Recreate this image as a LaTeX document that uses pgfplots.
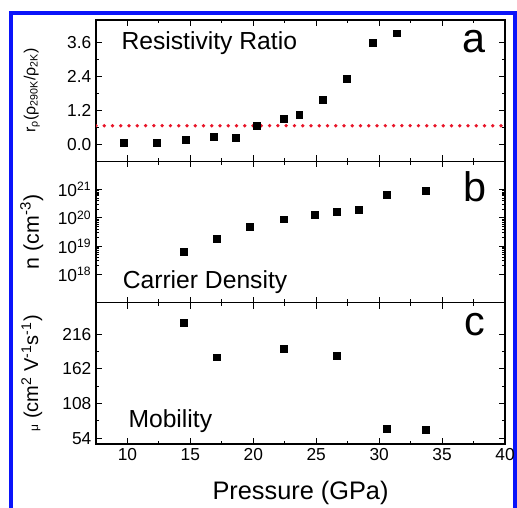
\documentclass[border=0pt]{standalone}
\usepackage{fontspec}
\setmainfont{Liberation Sans}
\usepackage{pgfplots}
\pgfplotsset{compat=1.18}
\definecolor{dotred}{RGB}{232,20,40}
\definecolor{frameblue}{RGB}{10,20,250}

\pgfplotsset{
  panel/.style={
    scale only axis,
    width=306.75pt, height=106pt,
    xmin=7.5, xmax=40,
    xtick={10,15,...,40}, minor x tick num=1,
    axis line style={line width=1pt},
    every tick/.style={black, line width=0.8pt},
    major tick length=4.5pt, minor tick length=2.5pt,
    tick label style={font=\fontsize{13}{13}\selectfont},
    /pgf/number format/assume math mode=true,
    every axis y label/.style={at={(axis description cs:-0.157,0.5)}, rotate=90, anchor=center},
    anchor=south west,
  },
  sq/.style={only marks, mark=square*, mark size=2.6pt, black},
}

\begin{document}
\begin{tikzpicture}
\useasboundingbox (-72pt,-47.25pt) rectangle (315.75pt,333pt);
\draw[frameblue, line width=3pt] (-63.75pt,-60pt) -- (-63.75pt,323.25pt) -- (313.9pt,323.25pt) -- (313.9pt,-60pt);

% a: resistivity ratio
\begin{axis}[panel, at={(0,212pt)},
  ymin=-0.6, ymax=4.4,
  ytick={0,1.2,2.4,3.6}, yticklabels={0.0,1.2,2.4,3.6}, minor y tick num=1,
  xticklabels={},
  ylabel={\fontsize{12}{12}\selectfont r\textsubscript{ρ}(ρ\textsubscript{290K}/ρ\textsubscript{2K})},
]
\addplot[dotred, line width=2.8pt, line cap=round, dash pattern=on 0pt off 6.2pt] coordinates {(7.5,0.66) (40,0.66)};
\addplot[sq] coordinates {
(9.7,0.06) (12.3,0.06) (14.6,0.15) (16.85,0.27) (18.6,0.23) (20.25,0.66)
(22.4,0.90) (23.65,1.05) (25.5,1.58) (27.45,2.31) (29.5,3.58) (31.4,3.93)
};
\node[anchor=base west, font=\fontsize{18.5}{18.5}\selectfont] at (axis description cs:0.051,0.79) {Resistivity Ratio};
\node[anchor=base east, font=\fontsize{31}{31}\selectfont] at (axis description cs:0.963,0.77) {a};
\end{axis}

% b: carrier density
\begin{axis}[panel, at={(0,106pt)},
  ymode=log, ymin=1e17, ymax=1e22,
  ytick={1e18,1e19,1e20,1e21},
  yticklabels={10\textsuperscript{18},10\textsuperscript{19},10\textsuperscript{20},10\textsuperscript{21}},
  xticklabels={},
  ylabel={\fontsize{16}{16}\selectfont n (cm\textsuperscript{-3})},
]
\addplot[sq] coordinates {
(14.45,6.2e18) (17.1,1.8e19) (19.75,4.8e19) (22.4,8.9e19) (24.9,1.32e20)
(26.65,1.66e20) (28.35,1.9e20) (30.6,6.8e20) (33.7,8.9e20)
};
\node[anchor=base west, font=\fontsize{18.5}{18.5}\selectfont] at (axis description cs:0.054,0.10) {Carrier Density};
\node[anchor=base east, font=\fontsize{31}{31}\selectfont] at (axis description cs:0.967,0.716) {b};
\end{axis}

% c: mobility
\begin{axis}[panel, at={(0,0)},
  ymin=45, ymax=265,
  ytick={54,108,162,216}, minor y tick num=1,
  xlabel={Pressure (GPa)},
  xlabel style={at={(axis description cs:0.5,-0.347)}, anchor=center, font=\fontsize{19}{19}\selectfont},
  ylabel={\fontsize{15}{15}\selectfont{\fontsize{9}{9}\selectfont μ} (cm\textsuperscript{2} V\textsuperscript{-1}s\textsuperscript{-1})},
]
\addplot[sq] coordinates {
(14.45,233) (17.1,180) (22.4,193) (26.65,182.5) (30.6,68) (33.7,67)
};
\node[anchor=base west, font=\fontsize{18.5}{18.5}\selectfont] at (axis description cs:0.068,0.12) {Mobility};
\node[anchor=base east, font=\fontsize{31}{31}\selectfont] at (axis description cs:0.963,0.77) {c};
\end{axis}
\end{tikzpicture}
\end{document}
